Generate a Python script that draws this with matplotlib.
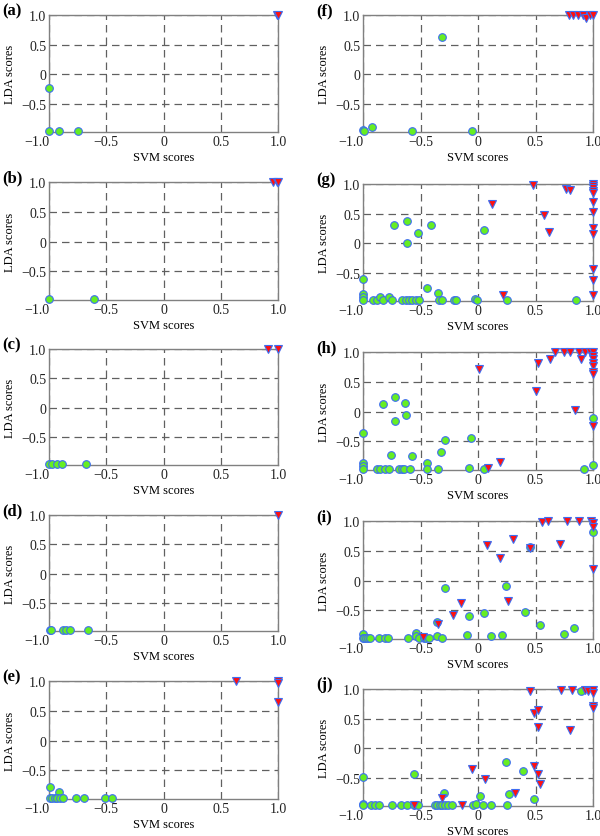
import numpy as np
import matplotlib.pyplot as plt

plt.rcParams['font.family'] = ['Liberation Serif', 'DejaVu Serif']

# ---------------------------------------------------------------------------
# data: (svm, lda) for negatives (circles) and
# positives (triangles) in every panel
# ---------------------------------------------------------------------------
B = -0.965  # the crowded bottom row

a_neg_x = [-1.0, -1.0, -0.91, -0.75]
a_neg_y = [-0.24, B, B, B]
a_pos_x = [0.99, 1.0]
a_pos_y = [1.0, 1.0]

b_neg_x = [-1.0, -0.61]
b_neg_y = [B, B]
b_pos_x = [0.96, 0.99, 1.0]
b_pos_y = [1.0, 1.0, 1.0]

c_neg_x = [-1.0, -0.97, -0.93, -0.89, -0.68]
c_neg_y = [B, B, B, B, B]
c_pos_x = [0.91, 1.0]
c_pos_y = [1.0, 1.0]

d_neg_x = [-0.99, -0.98, -0.88, -0.85, -0.82, -0.66]
d_neg_y = [B, B, B, B, B, B]
d_pos_x = [1.0]
d_pos_y = [1.0]

e_neg_x = [-0.99, -0.91, -0.99, -0.97, -0.95, -0.93, -0.90, -0.88, -0.76, -0.69, -0.51, -0.45]
e_neg_y = [-0.78, -0.87, B, B, B, B, B, B, B, B, B, B]
e_pos_x = [0.63, 1.0, 1.0, 1.0]
e_pos_y = [1.0, 1.0, 0.96, 0.64]

f_neg_x = [-1.0, -0.99, -0.92, -0.57, -0.31, -0.055]
f_neg_y = [-0.95, B, -0.90, B, 0.63, B]
f_pos_x = [0.79, 0.83, 0.87, 0.91, 0.94, 0.97, 1.0]
f_pos_y = [1.0, 1.0, 1.0, 1.0, 0.955, 1.0, 1.0]

g_neg_x = [-0.73, -0.62, -0.62, -0.52, -0.41, 0.05, -1.0, -0.44, -0.35,
           -1.0, -1.0, -1.0, -0.91, -0.88, -0.855, -0.83, -0.77, -0.75,
           -0.66, -0.63, -0.60, -0.57, -0.54, -0.51, -0.34, -0.31,
           -0.21, -0.19, -0.03, -0.01, 0.25, 0.855]
g_neg_y = [0.30, 0.37, 0.01, 0.17, 0.30, 0.23, -0.61, -0.76, -0.84,
           -0.86, -0.91, B, B, B, -0.92, B, -0.91, B,
           B, B, B, B, B, B, B, B,
           B, B, -0.94, B, B, B]
g_pos_x = [0.22, 0.12, 0.474, 0.57, 0.62, 0.765, 0.80,
           1.0, 1.0, 1.0, 1.0, 1.0, 1.0, 1.0, 1.0, 1.0, 1.0, 1.0, 1.0]
g_pos_y = [-0.87, 0.67, 0.98, 0.47, 0.19, 0.92, 0.90,
           1.0, 0.97, 0.94, 0.88, 0.84, 0.69, 0.52, 0.25, 0.15, -0.44, -0.63, -0.88]

h_neg_x = [-0.83, -0.724, -0.724, -0.637, -0.628, -1.0, -0.76, -0.57,
           -0.44, -0.32, -0.29, -0.064, 1.0, 1.0, 0.92, -0.076, 0.05,
           -1.0, -1.0, -1.0, -0.875, -0.855, -0.81, -0.77, -0.686, -0.665,
           -0.645, -0.587, -0.44, -0.35]
h_neg_y = [0.12, 0.25, -0.15, 0.15, -0.05, -0.36, -0.72, -0.75,
           -0.86, -0.68, -0.48, -0.44, -0.10, -0.90, B, -0.94, B,
           -0.86, -0.91, B, B, B, B, B, B, B,
           B, B, B, B]
h_pos_x = [0.012, 0.084, 0.19, 0.506, 0.526, 0.63, 0.846, 1.0,
           0.67, 0.744, 0.80, 0.875, 0.895, 0.93, 0.977,
           1.0, 1.0, 1.0, 1.0, 1.0, 1.0, 1.0]
h_pos_y = [0.72, -0.94, -0.85, 0.34, 0.81, 0.88, 0.03, -0.24,
           1.0, 1.0, 1.0, 1.0, 0.88, 1.0, 1.0,
           1.0, 0.94, 0.88, 0.81, 0.77, 0.66, 0.63]

i_neg_x = [-0.285, 0.244, -0.36, -0.076, 0.05, 0.41, 0.535, 0.837, 0.744,
           0.45, 1.0, -0.10, 0.11, 0.205, -0.36, -0.54, -0.535, -1.0,
           -1.0, -0.99, -0.97, -0.96, -0.94, -0.86, -0.81, -0.78, -0.61,
           -0.51, -0.47, -0.45, -0.43, -0.31]
i_neg_y = [-0.12, -0.09, -0.69, -0.60, -0.55, -0.53, -0.74, -0.79, -0.89,
           0.57, 0.82, -0.92, -0.93, -0.92, -0.93, -0.88, -0.93, -0.90,
           B, B, B, B, B, B, B, B, B,
           B, B, B, B, B]
i_pos_x = [-0.48, -0.35, -0.22, -0.15, 0.08, 0.19, 0.30, 0.45, 0.26, 0.71,
           0.56, 0.61, 0.77, 0.875, 0.985, 1.0, 1.0, 1.0]
i_pos_y = [-0.95, -0.73, -0.58, -0.38, 0.60, 0.38, 0.70, 0.55, -0.34, 0.61,
           0.98, 1.0, 1.0, 1.0, 1.0, 0.97, 0.90, 0.20]

j_neg_x = [-1.0, -0.555, 0.244, 0.39, -0.296, 0.273, 0.017, 0.483, 0.898,
           -1.0, -1.0, -0.927, -0.90, -0.86, -0.75, -0.67, -0.616, -0.558,
           -0.52, -0.375, -0.355, -0.33, -0.31, -0.285, -0.26, -0.23,
           -0.047, -0.017, 0.04, 0.11, 0.25]
j_neg_y = [-0.49, -0.44, -0.23, -0.39, -0.76, -0.77, -0.81, -0.86, 0.97,
           -0.94, B, B, B, B, B, B, B, B,
           B, B, B, B, B, B, B, B,
           B, -0.94, B, B, B]
j_pos_x = [-0.558, -0.31, -0.137, -0.055, 0.06, 0.32, 0.453, 0.483, 0.49,
           0.52, 0.52, 0.52, 0.54, 0.72, 0.82, 0.80, 0.933, 0.96, 1.0,
           1.0, 1.0, 1.0]
j_pos_y = [-0.97, -0.85, -0.96, -0.36, -0.52, -0.76, 0.97, -0.31, 0.59,
           0.64, 0.36, -0.44, -0.61, 0.98, 0.98, 0.30, 0.98, 0.97, 0.98,
           0.93, 0.71, 0.68]

panels = [
    ('(a)', a_neg_x, a_neg_y, a_pos_x, a_pos_y),
    ('(b)', b_neg_x, b_neg_y, b_pos_x, b_pos_y),
    ('(c)', c_neg_x, c_neg_y, c_pos_x, c_pos_y),
    ('(d)', d_neg_x, d_neg_y, d_pos_x, d_pos_y),
    ('(e)', e_neg_x, e_neg_y, e_pos_x, e_pos_y),
    ('(f)', f_neg_x, f_neg_y, f_pos_x, f_pos_y),
    ('(g)', g_neg_x, g_neg_y, g_pos_x, g_pos_y),
    ('(h)', h_neg_x, h_neg_y, h_pos_x, h_pos_y),
    ('(i)', i_neg_x, i_neg_y, i_pos_x, i_pos_y),
    ('(j)', j_neg_x, j_neg_y, j_pos_x, j_pos_y),
]

x_ticks = [-1.0, -0.5, 0, 0.5, 1.0]
x_labels = ['\u22121.0', '\u22120.5', '0', '0.5', '1.0']
y_ticks = [-0.5, 0, 0.5, 1.0]
y_labels = ['\u22120.5', '0', '0.5', '1.0']

# axes boxes in pixels: left, top, right, bottom
W, H = 600, 837
left_col = (49, 278)
right_col = (363, 593)
left_rows = [(16, 133), (183, 301), (350, 466), (516, 632), (682, 800)]
right_rows = [(16, 133), (185, 302), (353, 471), (522, 640), (690, 807)]

boxes = []
for t, b in left_rows:
    boxes.append((left_col[0], t, left_col[1], b, 2))
for t, b in right_rows:
    boxes.append((right_col[0], t, right_col[1], b, 316))

fig = plt.figure(figsize=(6, 8.37), dpi=100)

green = '#66ee22'
edge = '#3d6df2'

for (name, nx, ny, px, py), (l, t, r, b, lx) in zip(panels, boxes):
    ax = fig.add_axes([l / W, 1 - b / H, (r - l) / W, (b - t) / H])
    ax.set_xlim(-1.0, 1.0)
    ax.set_ylim(-0.98, 1.0)
    ax.set_xticks(x_ticks)
    ax.set_xticklabels(x_labels)
    ax.set_yticks(y_ticks)
    ax.set_yticklabels(y_labels)
    ax.get_xticklabels()[0].set_horizontalalignment('right')
    ax.tick_params(length=0, labelsize=10, pad=2, colors='#222222')
    ax.grid(True, color='#606060', linestyle=(0, (6, 4)), linewidth=0.9)
    for s in ax.spines.values():
        s.set_color('#808080')
        s.set_linewidth(1.0)
    ax.plot(nx, ny, 'o', ms=5.5, mfc=green, mec=edge, mew=0.8,
            clip_on=False, zorder=3)
    ax.plot(px, py, 'v', ms=6, mfc='#ff1010', mec=edge, mew=0.8,
            clip_on=False, zorder=4)
    ax.set_xlabel('SVM scores', fontsize=9, labelpad=2)
    ax.set_ylabel('LDA scores', fontsize=9, labelpad=4)
    fig.text(lx / W, 1 - (t - 5) / H, name, fontsize=12, fontweight='bold',
             ha='left', va='center')

fig.savefig('out.png', dpi=100)
